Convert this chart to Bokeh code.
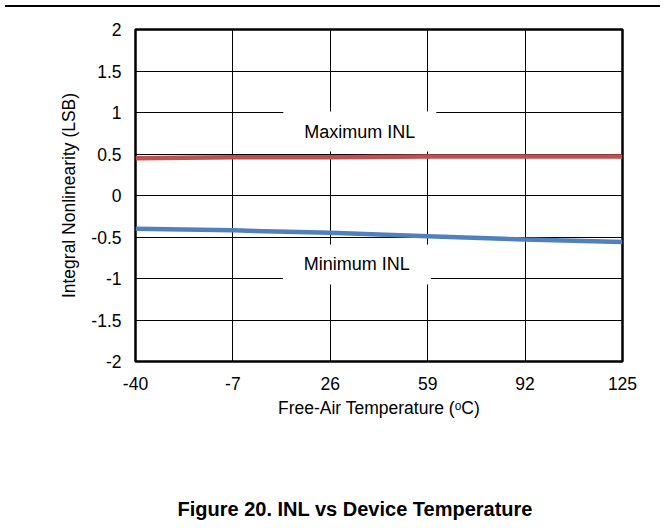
from bokeh.plotting import figure
from bokeh.models import Label, Div, FixedTicker, Range1d
from bokeh.layouts import column
from bokeh.embed import file_html
from bokeh.resources import INLINE

temps = [-40, -7, 26, 59, 92, 125]
x_tick_labels = ["-40", "-7", "26", "59", "92", "125"]
max_inl = [0.45, 0.46, 0.46, 0.47, 0.47, 0.47]
min_inl = [-0.40, -0.42, -0.45, -0.49, -0.53, -0.56]
y_ticks = [-2, -1.5, -1, -0.5, 0, 0.5, 1, 1.5, 2]
y_tick_labels = ["-2", "-1.5", "-1", "-0.5", "0", "0.5", "1", "1.5", "2"]

FONT = "Liberation Sans"
FS = "17.5px"

p = figure(width=655, height=440, output_backend="svg", toolbar_location=None,
           x_range=Range1d(-40, 125), y_range=Range1d(-2, 2),
           min_border_left=135, min_border_right=33, min_border_top=17,
           min_border_bottom=91)

p.line(temps, max_inl, line_color="#C0504D", line_width=4.5)
p.line(temps, min_inl, line_color="#4F81BD", line_width=4.5)

p.outline_line_color = "black"
p.outline_line_width = 2.5
p.outline_line_alpha = 1

for ax in (p.xaxis, p.yaxis):
    ax.axis_line_color = None
    ax.major_tick_line_color = None
    ax.minor_tick_line_color = None
    ax.major_tick_out = 0
    ax.major_tick_in = 0
    ax.minor_tick_out = 0
    ax.minor_tick_in = 0
    ax.major_label_text_font = FONT
    ax.major_label_text_font_size = FS
    ax.major_label_text_color = "black"
    ax.axis_label_text_font = FONT
    ax.axis_label_text_font_size = FS
    ax.axis_label_text_font_style = "normal"
    ax.axis_label_text_color = "black"

p.xaxis.ticker = FixedTicker(ticks=temps)
p.xaxis.major_label_overrides = {t: l for t, l in zip(temps, x_tick_labels)}
p.xaxis.major_label_standoff = 15
p.xaxis.axis_label = "Free-Air Temperature (ᵒC)"
p.xaxis.axis_label_standoff = 5

p.yaxis.ticker = FixedTicker(ticks=y_ticks)
p.yaxis.major_label_overrides = {t: l for t, l in zip(y_ticks, y_tick_labels)}
p.yaxis.major_label_standoff = 14
p.yaxis.axis_label = "Integral Nonlinearity (LSB)"
p.yaxis.axis_label_standoff = 9

p.xgrid.grid_line_color = "black"
p.ygrid.grid_line_color = "black"
p.xgrid.grid_line_width = 1
p.ygrid.grid_line_width = 1

pad = dict(left=21, right=21, top=10, bottom=10)
p.add_layout(Label(x=36, y=0.77, text="Maximum INL", text_align="center",
                   text_baseline="middle", text_font=FONT, text_font_size="18px",
                   text_color="black", background_fill_color="white", padding=pad))
p.add_layout(Label(x=35, y=-0.83, text="Minimum INL", text_align="center",
                   text_baseline="middle", text_font=FONT, text_font_size="18px",
                   text_color="black", background_fill_color="white", padding=pad))

top = Div(text="", width=655, height=2, styles={"border-top": "2px solid black"})
caption = Div(
    text=('<div style="margin-top:38px; margin-left:50px; width:600px; text-align:center; '
          'font-family:\'Liberation Sans\', Arial, sans-serif; font-weight:bold; '
          'font-size:20px; color:black; white-space:nowrap;">'
          'Figure 20. INL vs Device Temperature</div>'),
    width=655, height=70)
layout = column(top, p, caption, spacing=0)

open("out.html", "w").write(file_html(layout, INLINE))
